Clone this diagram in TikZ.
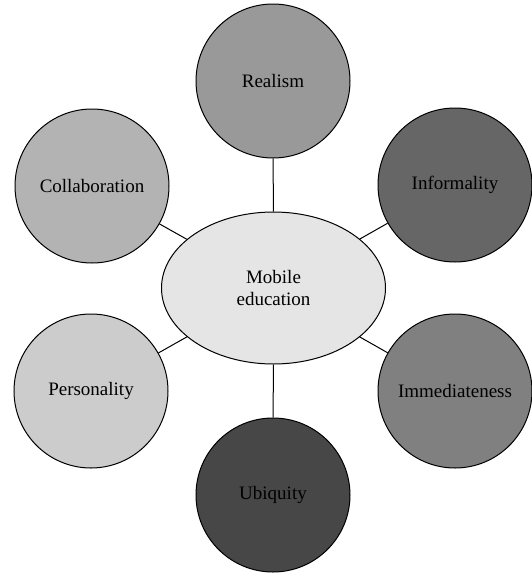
\documentclass[tikz,border=0pt]{standalone}
\usepackage{fontspec}
\setmainfont{Liberation Serif}
\usetikzlibrary{shapes.geometric}
\definecolor{hubgray}{HTML}{E5E5E5}
\definecolor{grayA}{HTML}{999999}
\definecolor{grayB}{HTML}{666666}
\definecolor{grayC}{HTML}{808080}
\definecolor{grayD}{HTML}{474747}
\definecolor{grayE}{HTML}{CCCCCC}
\definecolor{grayF}{HTML}{B3B3B3}
\begin{document}
\begin{tikzpicture}[x=1pt,y=-1pt,
  bubble/.style={circle, draw=black, line width=1pt, minimum size=154pt, inner sep=0pt,
    font=\fontsize{19}{22}\selectfont},
  hub/.style={ellipse, draw=black, line width=1pt, fill=hubgray, minimum width=224pt,
    minimum height=152pt, inner sep=0pt, align=center, font=\fontsize{19}{21.5}\selectfont},
  link/.style={line width=1pt}]
\useasboundingbox (0,0) rectangle (531,573);
\node[hub] (hub) at (273.5,288) {Mobile\\education};
\node[bubble, fill=grayA] (real) at (273,81) {Realism};
\node[bubble, fill=grayB] (inf) at (455,185) {Informality};
\node[bubble, fill=grayC] (imm) at (455,391) {Immediateness};
\node[bubble, fill=grayD] (ubi) at (273,495) {Ubiquity};
\node[bubble, fill=grayE] (per) at (91,391) {Personality};
\node[bubble, fill=grayF] (col) at (92,186) {Collaboration};
\foreach \n in {real,inf,imm,ubi,per,col}
  \draw[link] (hub) -- (\n);
\end{tikzpicture}
\end{document}
